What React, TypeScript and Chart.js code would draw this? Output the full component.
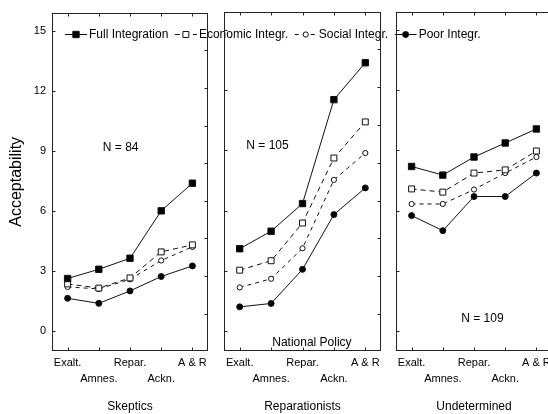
import React, { useEffect, useRef } from 'react';
import { Chart, registerables } from 'chart.js';

Chart.register(...registerables);

const FONT = "'Liberation Sans', Arial, sans-serif";

const categories = ['Exalt.', 'Amnes.', 'Repar.', 'Ackn.', 'A & R'];
const panelTitles = ['Skeptics', 'Reparationists', 'Undetermined'];
const seriesNames = ['Full Integration', 'Economic Integr.', 'Social Integr.', 'Poor Integr.'];
const yAxisTitle = 'Acceptability';

const skepticsFull = [2.62, 3.08, 3.63, 6.0, 7.38];
const skepticsEconomic = [2.35, 2.14, 2.65, 3.95, 4.3];
const skepticsSocial = [2.2, 2.1, 2.58, 3.52, 4.2];
const skepticsPoor = [1.63, 1.38, 2.0, 2.72, 3.25];

const reparationistsFull = [4.1, 4.97, 6.35, 11.53, 13.37];
const reparationistsEconomic = [3.03, 3.5, 5.38, 8.62, 10.42];
const reparationistsSocial = [2.17, 2.6, 4.12, 7.53, 8.87];
const reparationistsPoor = [1.2, 1.37, 3.07, 5.8, 7.13];

const undeterminedFull = [8.2, 7.77, 8.67, 9.37, 10.07];
const undeterminedEconomic = [7.08, 6.92, 7.87, 8.03, 8.97];
const undeterminedSocial = [6.33, 6.33, 7.05, 7.87, 8.67];
const undeterminedPoor = [5.75, 5.0, 6.7, 6.7, 7.87];

const yTicks = [0, 3, 6, 9, 12, 15];
const yMin = -1;
const yMax = 15.9;
const frameMinorTicks = [0.86, 2.75, 4.63, 6.5, 8.37, 10.26, 12.15, 14.05];

const seriesStyles = [
  { dash: [] as number[], pointStyle: 'rect', radius: 4.5, fill: '#000' },
  { dash: [5, 4], pointStyle: 'rect', radius: 4.2, fill: '#fff' },
  { dash: [4, 4], pointStyle: 'circle', radius: 2.6, fill: '#fff' },
  { dash: [] as number[], pointStyle: 'circle', radius: 3, fill: '#000' },
];

const panels = [
  {
    title: panelTitles[0],
    series: [skepticsFull, skepticsEconomic, skepticsSocial, skepticsPoor],
    padLeft: 0, padRight: 352, showY: true, legend: true,
    notes: [{ text: 'N = 84', x: 1.7, y: 9.13 }],
  },
  {
    title: panelTitles[1],
    series: [reparationistsFull, reparationistsEconomic, reparationistsSocial, reparationistsPoor],
    padLeft: 224, padRight: 179, showY: false, legend: false,
    notes: [
      { text: 'N = 105', x: 0.885, y: 9.23 },
      { text: 'National Policy', x: 2.3, y: -0.57 },
    ],
  },
  {
    title: panelTitles[2],
    series: [undeterminedFull, undeterminedEconomic, undeterminedSocial, undeterminedPoor],
    padLeft: 396, padRight: 8, showY: false, legend: false,
    notes: [{ text: 'N = 109', x: 2.27, y: 0.63 }],
  },
];

const LINE = '#111';

function drawMarker(ctx: CanvasRenderingContext2D, i: number, x: number, y: number) {
  const s = seriesStyles[i];
  ctx.save();
  ctx.setLineDash([]);
  ctx.fillStyle = s.fill;
  ctx.strokeStyle = LINE;
  ctx.lineWidth = 1;
  ctx.beginPath();
  if (s.pointStyle === 'rect') {
    const h = s.radius * Math.SQRT1_2;
    ctx.rect(x - h, y - h, 2 * h, 2 * h);
  } else {
    ctx.arc(x, y, s.radius, 0, Math.PI * 2);
  }
  ctx.fill();
  ctx.stroke();
  ctx.restore();
}

const framePlugin = {
  id: 'frame',
  beforeDatasetsDraw(chart: any) {
    const { ctx, chartArea, scales } = chart;
    const { left, right, top, bottom } = chartArea;
    const x = scales.x;
    const y = scales.y;
    ctx.save();
    ctx.strokeStyle = '#222';
    ctx.lineWidth = 1;
    const l = Math.round(left) + 0.5;
    const r = Math.round(right) - 0.5;
    const t = Math.round(top) + 0.5;
    const b = Math.round(bottom) - 0.5;
    ctx.strokeRect(l, t, r - l, b - t);
    ctx.beginPath();
    yTicks.forEach((v) => {
      const py = Math.round(y.getPixelForValue(v)) + 0.5;
      ctx.moveTo(l, py);
      ctx.lineTo(l + 3, py);
    });
    frameMinorTicks.forEach((v) => {
      const py = Math.round(y.getPixelForValue(v)) + 0.5;
      ctx.moveTo(r, py);
      ctx.lineTo(r - 3, py);
    });
    categories.forEach((_, i) => {
      const px = Math.round(x.getPixelForValue(i)) + 0.5;
      ctx.moveTo(px, t);
      ctx.lineTo(px, t + 3);
      ctx.moveTo(px, b);
      ctx.lineTo(px, b - 3);
    });
    ctx.stroke();
    ctx.restore();
  },
};

function makeNotesPlugin(notes: { text: string; x: number; y: number }[]) {
  return {
    id: 'notes',
    afterDatasetsDraw(chart: any) {
      const { ctx, scales } = chart;
      ctx.save();
      ctx.font = `12px ${FONT}`;
      ctx.fillStyle = '#000';
      ctx.textAlign = 'center';
      ctx.textBaseline = 'middle';
      notes.forEach((n) => {
        ctx.fillText(n.text, scales.x.getPixelForValue(n.x), scales.y.getPixelForValue(n.y));
      });
      ctx.restore();
    },
  };
}

const legendPlugin = {
  id: 'customLegend',
  afterDraw(chart: any) {
    const { ctx } = chart;
    ctx.save();
    ctx.font = `12px ${FONT}`;
    ctx.textBaseline = 'middle';
    ctx.textAlign = 'left';
    const yy = 34.5;
    let x = 65;
    seriesNames.forEach((name, i) => {
      ctx.beginPath();
      ctx.strokeStyle = LINE;
      ctx.lineWidth = 1;
      ctx.setLineDash(seriesStyles[i].dash);
      ctx.moveTo(x, yy);
      ctx.lineTo(x + 22, yy);
      ctx.stroke();
      ctx.setLineDash([]);
      drawMarker(ctx, i, x + 11, yy);
      ctx.fillStyle = '#000';
      ctx.fillText(name, x + 24, yy);
      x += 24 + ctx.measureText(name).width + 6.5;
    });
    ctx.restore();
  },
};

function makeConfig(p: typeof panels[number]): any {
  return {
    type: 'line',
    data: {
      labels: categories,
      datasets: p.series.map((d, i) => ({
        label: seriesNames[i],
        data: d,
        borderColor: LINE,
        borderWidth: 1,
        borderDash: seriesStyles[i].dash,
        pointStyle: seriesStyles[i].pointStyle,
        pointRadius: seriesStyles[i].radius,
        pointBackgroundColor: seriesStyles[i].fill,
        pointBorderColor: LINE,
        pointBorderWidth: 1,
        tension: 0,
        fill: false,
      })),
    },
    options: {
      responsive: false,
      animation: false,
      devicePixelRatio: 1,
      layout: { padding: { left: p.padLeft, right: p.padRight, top: 12, bottom: 0 } },
      plugins: { legend: { display: false }, tooltip: { enabled: false } },
      scales: {
        x: {
          type: 'category',
          offset: true,
          grid: { display: false, drawTicks: false },
          border: { display: false },
          ticks: {
            autoSkip: false,
            maxRotation: 0,
            minRotation: 0,
            padding: 4,
            color: '#000',
            font: { family: FONT, size: 11, lineHeight: 1.45 },
            callback: (_v: any, i: number) => (i % 2 === 1 ? ['', categories[i]] : categories[i]),
          },
          title: {
            display: true,
            text: p.title,
            color: '#000',
            font: { family: FONT, size: 12 },
            padding: { top: 0, bottom: 0 },
          },
          afterFit: (s: any) => {
            s.height = 63;
          },
        },
        y: {
          display: p.showY,
          min: yMin,
          max: yMax,
          afterBuildTicks: (s: any) => {
            s.ticks = yTicks.map((v) => ({ value: v }));
          },
          grid: { display: false, drawTicks: false },
          border: { display: false },
          ticks: { padding: 6, color: '#000', font: { family: FONT, size: 11 } },
          title: {
            display: p.showY,
            text: yAxisTitle,
            color: '#000',
            font: { family: FONT, size: 16 },
            padding: { top: 7.4, bottom: 0 },
          },
          afterFit: (s: any) => {
            s.width = p.showY ? 52 : 0;
          },
        },
      },
    },
    plugins: [framePlugin, makeNotesPlugin(p.notes), ...(p.legend ? [legendPlugin] : [])],
  };
}

export default function App() {
  const r1 = useRef<HTMLCanvasElement>(null);
  const r2 = useRef<HTMLCanvasElement>(null);
  const r3 = useRef<HTMLCanvasElement>(null);
  const refs = [r1, r2, r3];

  useEffect(() => {
    const charts = refs.map((r, i) => new Chart(r.current as HTMLCanvasElement, makeConfig(panels[i])));
    return () => charts.forEach((c) => c.destroy());
  }, []);

  return (
    <div
      style={{
        position: 'fixed',
        left: 0,
        top: 0,
        width: 548,
        height: 414,
        overflow: 'hidden',
        background: '#fff',
      }}
    >
      {refs.map((r, i) => (
        <canvas
          key={i}
          ref={r}
          width={560}
          height={414}
          style={{ position: 'absolute', left: 0, top: 0, width: 560, height: 414 }}
        />
      ))}
    </div>
  );
}
